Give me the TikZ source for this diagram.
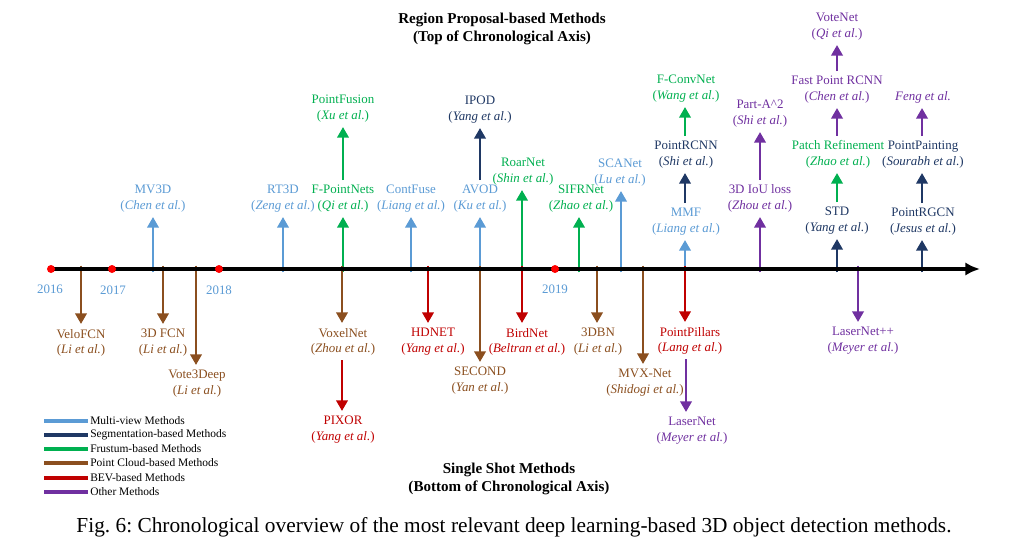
\documentclass[tikz,border=0pt]{standalone}
\usepackage{fontspec}
\setmainfont{Liberation Serif}
\usetikzlibrary{arrows.meta}
\definecolor{cmv}{HTML}{5B9BD5}
\definecolor{cseg}{HTML}{1F3864}
\definecolor{cfru}{HTML}{00B050}
\definecolor{cpc}{HTML}{8B4F1F}
\definecolor{cbev}{HTML}{C00000}
\definecolor{coth}{HTML}{7030A0}
\newcommand\ml[2]{#1\\(\textit{#2})}
\frenchspacing
\begin{document}
\begin{tikzpicture}[x=0.75pt,y=-0.75pt,
  lbl/.style={font=\fontsize{9.7}{11.6}\selectfont, align=center, inner xsep=0pt, inner ysep=3.8pt, outer sep=0pt},
  up/.style={lbl, anchor=south},
  dn/.style={lbl, anchor=north},
  arr/.style={line width=2.1pt, -{Triangle[length=8pt,width=8.5pt]}},
  yr/.style={font=\fontsize{9.7}{11.6}\selectfont, text=cmv},
  legbar/.style={line width=3.5pt},
  legtxt/.style={font=\fontsize{8.6}{10}\selectfont, anchor=west, inner sep=0pt},
  ttl/.style={font=\bfseries\fontsize{11.3}{13.6}\selectfont, align=center}]
\fill[white] (0,0) rectangle (1019,545);
\useasboundingbox (0,0) rectangle (1019,545);

% titles
\node[ttl] (toptitle) at (502,29) {Region Proposal-based Methods\\(Top of Chronological Axis)};
\node[ttl] (bottitle) at (509,479) {Single Shot Methods\\(Bottom of Chronological Axis)};

% axis coordinates
\coordinate (ax0) at (48,269);
\coordinate (axend) at (980,269);
\foreach \n/\x in {mv3d/153, rt3d/283, fpn/343, contfuse/411, avod/480, roar/522, sifr/579, scan/621, mmf/685, iou/760, std/837, rgcn/922,
  velo/81, fcn/163, vote3/196, voxel/342, hdnet/428, second/480, bird/522, dbn/597, mvx/643, pp/685, lnpp/858}
  {\coordinate (t-\n) at (\x,269);}

% ---------- labels above ----------
\node[up, text=cmv] (mv3d) at (153,217) {\ml{MV3D}{Chen et al.}};
\node[up, text=cmv] (rt3d) at (283,217) {\ml{RT3D}{Zeng et al.}};
\node[up, text=cfru] (fpn) at (343,217) {\ml{F-PointNets}{Qi et al.}};
\node[up, text=cfru] (pfusion) at (343,127) {\ml{PointFusion}{Xu et al.}};
\node[up, text=cmv] (contfuse) at (411,217) {\ml{ContFuse}{Liang et al.}};
\node[up, text=cmv] (avod) at (480,217) {\ml{AVOD}{Ku et al.}};
\node[up, text=cseg] (ipod) at (480,128) {\ml{IPOD}{Yang et al.}};
\node[up, text=cfru] (roar) at (523,190) {\ml{RoarNet}{Shin et al.}};
\node[up, text=cfru] (sifr) at (581,217) {\ml{SIFRNet}{Zhao et al.}};
\node[up, text=cmv] (scan) at (620,191) {\ml{SCANet}{Lu et al.}};
\node[up, text=cmv] (mmf) at (686,240) {\ml{MMF}{Liang et al.}};
\node[up, text=cseg] (prcnn) at (686,173) {\ml{PointRCNN}{Shi et al.}};
\node[up, text=cfru] (fconv) at (686,107) {\ml{F-ConvNet}{Wang et al.}};
\node[up, text=coth] (iou) at (760,217) {\ml{3D IoU loss}{Zhou et al.}};
\node[up, text=coth] (parta) at (760,132) {\ml{Part-A\textasciicircum 2}{Shi et al.}};
\node[up, text=cseg] (std) at (837,239) {\ml{STD}{Yang et al.}};
\node[up, text=cfru] (patch) at (838,173) {\ml{Patch Refinement}{Zhao et al.}};
\node[up, text=coth] (fprcnn) at (837,108) {\ml{Fast Point RCNN}{Chen et al.}};
\node[up, text=coth] (votenet) at (837,45) {\ml{VoteNet}{Qi et al.}};
\node[up, text=cseg] (rgcn) at (923,240) {\ml{PointRGCN}{Jesus et al.}};
\node[up, text=cseg] (ppaint) at (923,173) {\ml{PointPainting}{Sourabh et al.}};
\node[up, text=coth] (feng) at (923,108) {\textit{Feng et al.}};

% ---------- labels below ----------
\node[dn, text=cpc] (velo) at (81,324) {\ml{VeloFCN}{Li et al.}};
\node[dn, text=cpc] (fcn) at (163,324) {\ml{3D FCN}{Li et al.}};
\node[dn, text=cpc] (vote3) at (197,365) {\ml{Vote3Deep}{Li et al.}};
\node[dn, text=cpc] (voxel) at (343,323) {\ml{VoxelNet}{Zhou et al.}};
\node[dn, text=cbev] (pixor) at (343,411) {\ml{PIXOR}{Yang et al.}};
\node[dn, text=cbev] (hdnet) at (433,323) {\ml{HDNET}{Yang et al.}};
\node[dn, text=cpc] (second) at (480,362) {\ml{SECOND}{Yan et al.}};
\node[dn, text=cbev] (bird) at (527,323) {\ml{BirdNet}{Beltran et al.}};
\node[dn, text=cpc] (dbn) at (598,323) {\ml{3DBN}{Li et al.}};
\node[dn, text=cpc] (mvx) at (645,364) {\ml{MVX-Net}{Shidogi et al.}};
\node[dn, text=cbev] (pp) at (690,322) {\ml{PointPillars}{Lang et al.}};
\node[dn, text=coth] (lnet) at (692,412) {\ml{LaserNet}{Meyer et al.}};
\node[dn, text=coth] (lnpp) at (863,322) {\ml{LaserNet++}{Meyer et al.}};

% ---------- arrows from axis ----------
\foreach \n/\c in {mv3d/cmv, rt3d/cmv, fpn/cfru, contfuse/cmv, avod/cmv, roar/cfru, sifr/cfru, scan/cmv, mmf/cmv, iou/coth, std/cseg, rgcn/cseg}
  {\draw[arr, \c] ([yshift=-2.5pt]t-\n) -- (t-\n |- \n.south);}
\foreach \n/\c in {velo/cpc, fcn/cpc, vote3/cpc, voxel/cpc, hdnet/cbev, second/cpc, bird/cbev, dbn/cpc, mvx/cpc, pp/cbev, lnpp/coth}
  {\draw[arr, \c] ([yshift=2.5pt]t-\n) -- (t-\n |- \n.north);}

% ---------- stacked arrows ----------
\draw[arr, cfru] (t-fpn |- fpn.north) -- (t-fpn |- pfusion.south);
\draw[arr, cseg] (t-avod |- avod.north) -- (t-avod |- ipod.south);
\draw[arr, cseg] (t-mmf |- mmf.north) -- (t-mmf |- prcnn.south);
\draw[arr, cfru] (t-mmf |- prcnn.north) -- (t-mmf |- fconv.south);
\draw[arr, coth] (t-iou |- iou.north) -- (t-iou |- parta.south);
\draw[arr, cfru] (t-std |- std.north) -- (t-std |- patch.south);
\draw[arr, coth] (t-std |- patch.north) -- (t-std |- fprcnn.south);
\draw[arr, coth] (t-std |- fprcnn.north) -- (t-std |- votenet.south);
\draw[arr, cseg] (t-rgcn |- rgcn.north) -- (t-rgcn |- ppaint.south);
\draw[arr, coth] (t-rgcn |- ppaint.north) -- (t-rgcn |- feng.south);
\draw[arr, cbev] (t-voxel |- voxel.south) -- (t-voxel |- pixor.north);
\coordinate (t-ln) at (686,269);
\draw[arr, coth] (t-ln |- pp.south) -- (t-ln |- lnet.north);

% ---------- axis ----------
\draw[line width=3pt, -{Latex[length=11pt,width=10pt]}] (ax0) -- (axend);
\foreach \x in {51, 112, 219, 555}{
  \fill[red] (\x,269) circle (3pt);
}
\node[yr] (y2016) at (50,289) {2016};
\node[yr] (y2017) at (113,290) {2017};
\node[yr] (y2018) at (219,290) {2018};
\node[yr] (y2019) at (555,289) {2019};

% ---------- legend ----------
\foreach \n/\c/\y/\t in {l1/cmv/421/Multi-view Methods, l2/cseg/435/Segmentation-based Methods, l3/cfru/449/Frustum-based Methods,
  l4/cpc/463/Point Cloud-based Methods, l5/cbev/478/BEV-based Methods, l6/coth/492/Other Methods}{
  \draw[legbar, \c] (44,\y) -- (88,\y);
  \node[legtxt] (\n) at (90,\y) {\t};
}

% ---------- caption ----------
\node[font=\fontsize{16}{18}\selectfont, inner sep=0pt] (caption) at (514,527) {Fig. 6: Chronological overview of the most relevant deep learning-based 3D object detection methods.};
\end{tikzpicture}
\end{document}
